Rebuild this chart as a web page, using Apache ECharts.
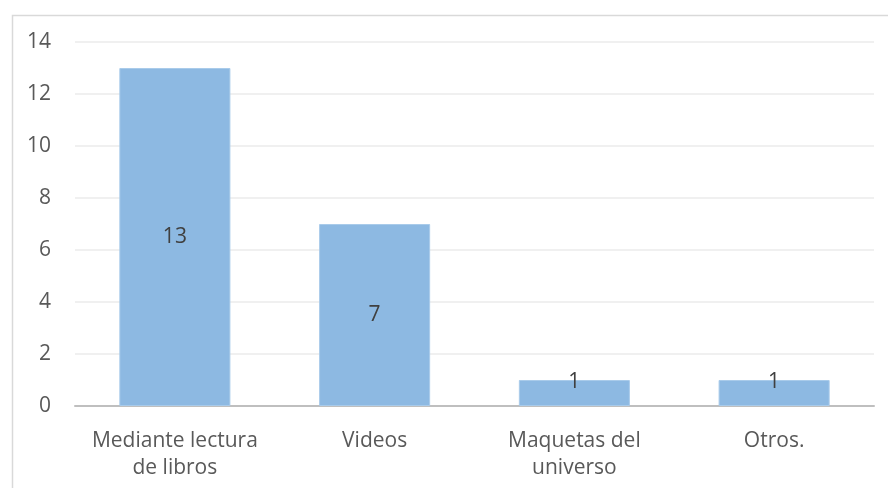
<!DOCTYPE html>
<html><head><meta charset="utf-8">
<script src="https://cdn.jsdelivr.net/npm/echarts@6/dist/echarts.min.js"></script>
<style>html,body{margin:0;padding:0;background:#fff}#c{width:888px;height:488px}</style>
</head><body><div id="c"></div>
<script>
var categories = ['Mediante lectura\nde libros', 'Videos', 'Maquetas del\nuniverso', 'Otros.'];
var values = [13, 7, 1, 1];
var yTicks = [0, 2, 4, 6, 8, 10, 12, 14];

var FONT = '"Open Sans", "Noto Sans", sans-serif';
var chart = echarts.init(document.getElementById('c'), null, {renderer: 'canvas'});
var data = values.map(function (v) {
  var item = {value: v};
  if (v < 2) {
    item.label = {position: 'top', distance: -13};
  }
  return item;
});
chart.setOption({
  animation: false,
  backgroundColor: '#fff',
  graphic: [{
    type: 'rect', left: 10, top: 13, shape: {width: 900, height: 500},
    style: {fill: 'none', stroke: '#d9d9d9', lineWidth: 1.5}, silent: true
  }],
  grid: {left: 75, right: 14, top: 42, bottom: 82, containLabel: false},
  xAxis: {
    type: 'category', data: categories,
    axisLine: {lineStyle: {color: '#bfbfbf', width: 2}},
    axisTick: {show: false},
    axisLabel: {interval: 0, hideOverlap: false, color: '#595959', fontFamily: FONT, fontSize: 21, lineHeight: 27, margin: 22}
  },
  yAxis: {
    type: 'value', min: yTicks[0], max: yTicks[yTicks.length - 1], interval: 2,
    axisLine: {show: false}, axisTick: {show: false},
    splitLine: {lineStyle: {color: '#f0f0f0', width: 2}},
    axisLabel: {color: '#595959', fontFamily: FONT, fontSize: 21, margin: 24}
  },
  series: [{
    type: 'bar', data: data, barWidth: '55.6%',
    itemStyle: {color: '#8db9e2', borderColor: '#a9cbea', borderWidth: 1},
    label: {show: true, position: 'inside', color: '#404040', fontFamily: FONT, fontSize: 21}
  }]
});
</script></body></html>
